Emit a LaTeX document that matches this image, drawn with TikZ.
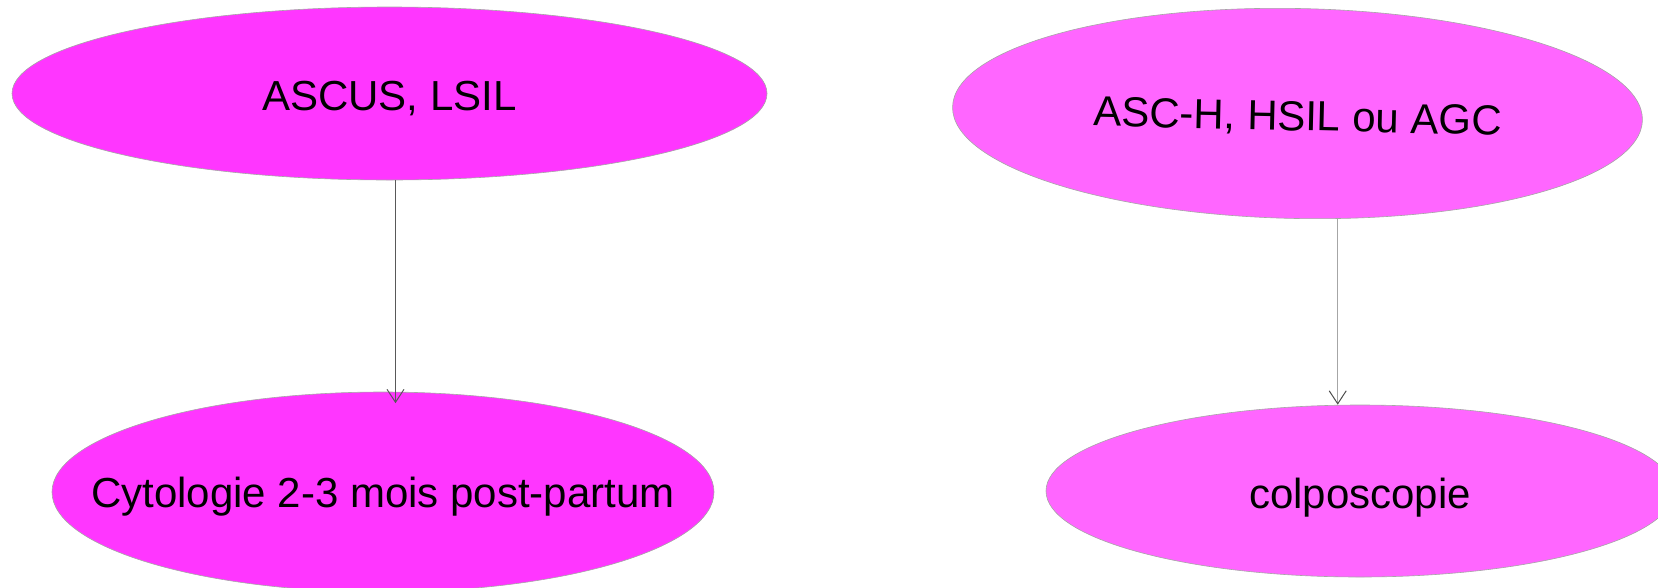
\documentclass[tikz,border=0pt]{standalone}
\usepackage{fontspec}
\setmainfont{Liberation Sans}
\usepackage{tikz}
\usetikzlibrary{shapes.geometric,arrows.meta,positioning,calc}
\usepackage{xcolor}
\definecolor{lowgrade}{RGB}{255,54,255}
\definecolor{highgrade}{RGB}{255,102,255}

\begin{document}
\begin{tikzpicture}[x=1pt, y=-1pt,
    finding/.style={ellipse, draw=gray!70, line width=0.6pt, inner sep=0pt},
    edge/.style={line width=1.1pt, -{Straight Barb[length=13pt, width=17pt, line width=1pt]}},
    every label/.style={font=\fontsize{42}{50}\selectfont, inner sep=0pt, yshift=-5pt}]
    \clip (0,0) rectangle (1658,587);

    % Cytology results
    \node[finding, fill=lowgrade, minimum width=755, minimum height=173,
        label=center:{ASCUS, LSIL}] (ascus) at (389.5,93.5) {};
    \node[finding, fill=highgrade, minimum width=690, minimum height=210, rotate=-1.1,
        label={[rotate=-1.3]center:{ASC-H, HSIL ou AGC}}] (asch) at (1297.5,113.5) {};

    % What to do next
    \node[finding, fill=lowgrade, minimum width=662, minimum height=200,
        label=center:{Cytologie 2-3 mois post-partum}] (cyto) at (383,492) {};
    \node[finding, fill=highgrade, minimum width=628, minimum height=172,
        label={[yshift=-2pt]center:{colposcopie}}] (colpo) at (1360,491) {};

    % Arrows
    \coordinate (lane1) at (395.5,0);
    \coordinate (lane2) at (1337.7,0);
    \draw[edge, black!65] (ascus.south -| lane1) -- ([yshift=-11.5pt]cyto.north -| lane1);
    \draw[edge, black!35, -{Straight Barb[length=13pt, width=17pt, line width=1pt, color=black!70]}]
        (asch.south -| lane2) -- (colpo.north -| lane2);
\end{tikzpicture}
\end{document}
